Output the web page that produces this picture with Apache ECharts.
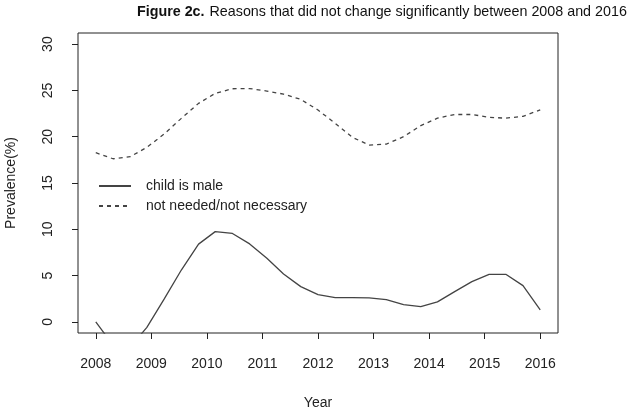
<!DOCTYPE html>
<html>
<head>
<meta charset="utf-8">
<script src="https://cdn.jsdelivr.net/npm/echarts@6/dist/echarts.min.js"></script>
<style>
html,body{margin:0;padding:0;background:#fff;}
#chart{width:630px;height:410px;}
</style>
</head>
<body>
<div id="chart"></div>
<script>
// Data
const years = [2008, 2008.31, 2008.62, 2008.92, 2009.23, 2009.54, 2009.85, 2010.15, 2010.46, 2010.77,
  2011.08, 2011.38, 2011.69, 2012, 2012.31, 2012.62, 2012.92, 2013.23, 2013.54, 2013.85,
  2014.15, 2014.46, 2014.77, 2015.08, 2015.38, 2015.69, 2016];
const childIsMale = [0.0, -2.5, -2.7, -0.6, 2.45, 5.6, 8.4, 9.75, 9.55, 8.42,
  6.87, 5.18, 3.81, 2.95, 2.63, 2.63, 2.6, 2.41, 1.87, 1.65,
  2.16, 3.27, 4.35, 5.14, 5.14, 3.92, 1.3];
const notNeeded = [18.27, 17.62, 17.84, 18.85, 20.29, 21.98, 23.6, 24.68, 25.18, 25.2,
  24.93, 24.6, 24.03, 22.88, 21.44, 19.93, 19.1, 19.2, 20.0, 21.2,
  22.0, 22.4, 22.4, 22.1, 22.0, 22.2, 22.9];
const xTicks = [2008, 2009, 2010, 2011, 2012, 2013, 2014, 2015, 2016];
const yTicks = [0, 5, 10, 15, 20, 25, 30];
const seriesNames = ['child is male', 'not needed/not necessary'];

const pairs = (ys) => years.map((x, i) => [x, ys[i]]);
const FONT = 'Liberation Sans, Arial, sans-serif';
const chart = echarts.init(document.getElementById('chart'), null, {renderer: 'canvas'});
chart.setOption({
  animation: false,
  backgroundColor: '#fff',
  title: {
    text: '{b|Figure 2c.} {n|Reasons that did not change significantly between 2008 and 2016}',
    left: 137, top: 3, padding: 0,
    textStyle: {
      fontWeight: 'normal',
      rich: {
        b: {fontFamily: FONT, fontSize: 14.3, fontWeight: 'bold', color: '#111'},
        n: {fontFamily: FONT, fontSize: 14.3, fontWeight: 'normal', color: '#111'}
      }
    }
  },
  legend: {
    orient: 'vertical',
    left: 98, top: 179, padding: 0,
    itemWidth: 32, itemHeight: 14, itemGap: 6,
    itemStyle: {opacity: 0, borderWidth: 0},
    textStyle: {fontFamily: FONT, fontSize: 14, color: '#222', padding: [0, 0, 0, 10]},
    data: seriesNames
  },
  grid: {
    left: 78, right: 72, top: 33, bottom: 77,
    outerBoundsMode: 'none', containLabel: false,
    show: true, borderColor: '#222', borderWidth: 1, backgroundColor: 'transparent'
  },
  xAxis: {
    type: 'value', min: 2007.68, max: 2016.32,
    name: 'Year', nameLocation: 'middle', nameGap: 63,
    nameTextStyle: {fontFamily: FONT, fontSize: 14, color: '#222'},
    axisLine: {show: false, onZero: false},
    splitLine: {show: false},
    axisTick: {show: true, inside: false, length: 6, lineStyle: {color: '#222'}, customValues: xTicks},
    axisLabel: {fontFamily: FONT, fontSize: 14, color: '#222', margin: 24, customValues: xTicks,
      formatter: v => String(v)}
  },
  yAxis: {
    type: 'value', min: -1.2, max: 31.2,
    name: 'Prevalence(%)', nameLocation: 'middle', nameGap: 60, nameRotate: 90,
    nameTextStyle: {fontFamily: FONT, fontSize: 14, color: '#222'},
    axisLine: {show: false, onZero: false},
    splitLine: {show: false},
    axisTick: {show: true, inside: false, length: 6, lineStyle: {color: '#222'}, customValues: yTicks},
    axisLabel: {fontFamily: FONT, fontSize: 14, color: '#222', margin: 23, rotate: 90, customValues: yTicks,
      formatter: v => String(v)}
  },
  series: [
    {
      name: seriesNames[0], type: 'line', data: pairs(childIsMale), symbol: 'none', clip: true,
      lineStyle: {color: '#444', width: 1.3, type: 'solid'}, itemStyle: {color: '#444'}
    },
    {
      name: seriesNames[1], type: 'line', data: pairs(notNeeded), symbol: 'none', clip: true,
      lineStyle: {color: '#444', width: 1.3, type: [4, 4]}, itemStyle: {color: '#444'}
    }
  ]
});
</script>
</body>
</html>
